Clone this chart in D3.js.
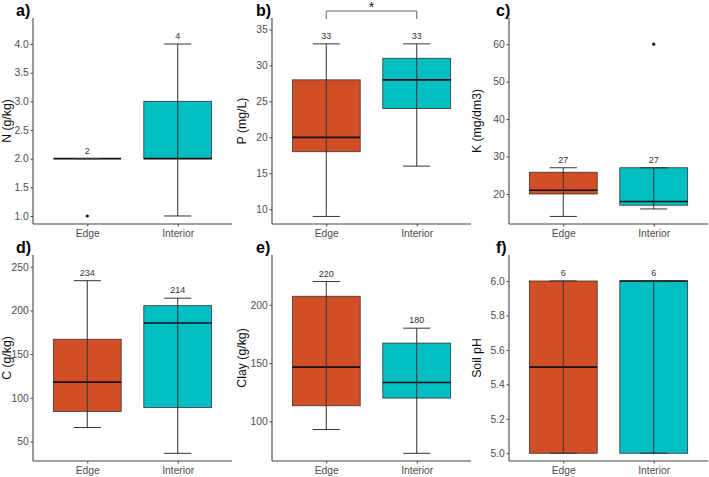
<!DOCTYPE html>
<html><head><meta charset="utf-8">
<script src="https://cdn.jsdelivr.net/npm/d3@7"></script>
<style>body{margin:0;background:#fff}svg{display:block;font-family:"Liberation Sans",Arial,sans-serif}</style>
</head><body><svg id="c" width="709" height="477"></svg>
<script>
// ---- data ----
const groups = ["Edge", "Interior"];
// [min, q1, median, q3, max]
const nStats = [[2, 2, 2, 2, 2], [1, 2, 2, 3, 4]];
const nOutliers = [[1], []];
const pStats = [[9, 18, 20, 28, 33], [16, 24, 28, 31, 33]];
const pOutliers = [[], []];
const kStats = [[14, 20, 21, 25.8, 27], [16, 17, 18, 27, 27]];
const kOutliers = [[], [60]];
const cStats = [[66, 84.5, 118, 167, 234], [36.5, 89, 185.6, 205.4, 214]];
const cOutliers = [[], []];
const clayStats = [[93, 113.4, 146.6, 207.4, 220], [72.6, 120, 133.4, 167.2, 180]];
const clayOutliers = [[], []];
const phStats = [[5, 5, 5.5, 6, 6], [5, 5, 6, 6, 6]];
const phOutliers = [[], []];
const nLabels = ["2", "4"];
const pLabels = ["33", "33"];
const kLabels = ["27", "27"];
const cLabels = ["234", "214"];
const clayLabels = ["220", "180"];
const phLabels = ["6", "6"];
const nTicks = [1.0, 1.5, 2.0, 2.5, 3.0, 3.5, 4.0];
const pTicks = [10, 15, 20, 25, 30, 35];
const kTicks = [20, 30, 40, 50, 60];
const cTicks = [50, 100, 150, 200, 250];
const clayTicks = [100, 150, 200];
const phTicks = [5.0, 5.2, 5.4, 5.6, 5.8, 6.0];
const colors = ["#D24E27", "#02BDC2"];

const panels = [
  {tag:"a)", title:"N (g/kg)", stats:nStats, out:nOutliers, labels:nLabels, ticks:nTicks, fmt:".1f", dom:[0.86,4.454], col:0, row:0},
  {tag:"b)", title:"P (mg/L)", stats:pStats, out:pOutliers, labels:pLabels, ticks:pTicks, fmt:"d", dom:[7.95,36.6], col:1, row:0, sig:"*"},
  {tag:"c)", title:"K (mg/dm3)", stats:kStats, out:kOutliers, labels:kLabels, ticks:kTicks, fmt:"d", dom:[11.98,67], col:2, row:0},
  {tag:"d)", title:"C (g/kg)", stats:cStats, out:cOutliers, labels:cLabels, ticks:cTicks, fmt:"d", dom:[27.7,263.4], col:0, row:1},
  {tag:"e)", title:"Clay (g/kg)", stats:clayStats, out:clayOutliers, labels:clayLabels, ticks:clayTicks, fmt:"d", dom:[66,242.8], col:1, row:1},
  {tag:"f)", title:"Soil pH", stats:phStats, out:phOutliers, labels:phLabels, ticks:phTicks, fmt:".1f", dom:[4.955,6.151], col:2, row:1}
];

const svg = d3.select("#c");
const cellX = [0, 235, 470];
const axisX = [33, 272, 509];
const plotW = 199;
const rowTop = [18, 255], rowBot = [224, 461];

panels.forEach(p => {
  const g = svg.append("g");
  const x = d3.scalePoint().domain(groups).range([axisX[p.col], axisX[p.col] + plotW]).padding(0.6);
  const step = x.step();
  const y = d3.scaleLinear().domain(p.dom).range([rowBot[p.row], rowTop[p.row]]);
  const bw = step * 0.75, cw = step * 0.3;

  groups.forEach((grp, i) => {
    const s = p.stats[i], cx = x(grp);
    g.append("rect").attr("x", cx - bw/2).attr("width", bw)
      .attr("y", y(s[3])).attr("height", Math.max(0, y(s[1]) - y(s[3])))
      .attr("fill", colors[i]).attr("stroke", "#333").attr("stroke-width", 0.8);
    g.append("line").attr("x1", cx - bw/2).attr("x2", cx + bw/2)
      .attr("y1", y(s[2])).attr("y2", y(s[2])).attr("stroke", "#111").attr("stroke-width", 1.6);
    g.append("line").attr("x1", cx).attr("x2", cx).attr("y1", y(s[0])).attr("y2", y(s[4]))
      .attr("stroke", "#333").attr("stroke-width", 1);
    [s[0], s[4]].forEach(v => g.append("line").attr("x1", cx - cw/2).attr("x2", cx + cw/2)
      .attr("y1", y(v)).attr("y2", y(v)).attr("stroke", "#333").attr("stroke-width", 1));
    p.out[i].forEach(v => g.append("circle").attr("cx", cx).attr("cy", y(v)).attr("r", 1.6).attr("fill", "#111"));
    g.append("text").attr("x", cx).attr("y", y(s[4]) - 5).attr("text-anchor", "middle")
      .attr("font-size", 9).attr("fill", "#333").text(p.labels[i]);
  });

  const ya = g.append("g").attr("transform", `translate(${axisX[p.col]},0)`)
    .call(d3.axisLeft(y).tickValues(p.ticks).tickFormat(d3.format(p.fmt)).tickSize(2.5).tickSizeOuter(0).tickPadding(1.8));
  const xa = g.append("g").attr("transform", `translate(0,${rowBot[p.row]})`)
    .call(d3.axisBottom(x).tickSize(2.5).tickSizeOuter(0).tickPadding(3));
  [ya, xa].forEach(a => {
    a.select(".domain").attr("stroke", "#444").attr("stroke-width", 1.1);
    a.selectAll(".tick line").attr("stroke", "#444");
    a.selectAll(".tick text").attr("fill", "#4d4d4d").attr("font-size", 10.3).attr("font-family", "Liberation Sans, Arial, sans-serif");
  });
  ya.select(".domain").attr("d", `M0,${rowBot[p.row]}V${rowTop[p.row]}`);
  xa.select(".domain").attr("d", `M${axisX[p.col]},0H${axisX[p.col] + plotW}`);

  const ty = (rowTop[p.row] + rowBot[p.row]) / 2;
  g.append("text").attr("transform", `translate(${cellX[p.col] + 10.5},${ty}) rotate(-90)`)
    .attr("text-anchor", "middle").attr("font-size", 12.3).attr("fill", "#111").text(p.title);
  g.append("text").attr("x", cellX[p.col] + 16 + (p.col ? 5 : 0) + (p.col === 2 ? 5 : 0)).attr("y", rowTop[p.row] - 2)
    .attr("font-size", 16).attr("font-weight", "bold").attr("fill", "#000").text(p.tag);

  if (p.sig) {
    const x1 = x(groups[0]), x2 = x(groups[1]);
    const by = rowTop[p.row] - 7;
    g.append("path").attr("d", `M${x1},${by + 8}V${by}H${x2}V${by + 8}`)
      .attr("fill", "none").attr("stroke", "#666").attr("stroke-width", 1);
    g.append("text").attr("x", (x1 + x2) / 2).attr("y", by + 1).attr("text-anchor", "middle")
      .attr("font-size", 14).attr("fill", "#222").text(p.sig);
  }
});
</script></body></html>
